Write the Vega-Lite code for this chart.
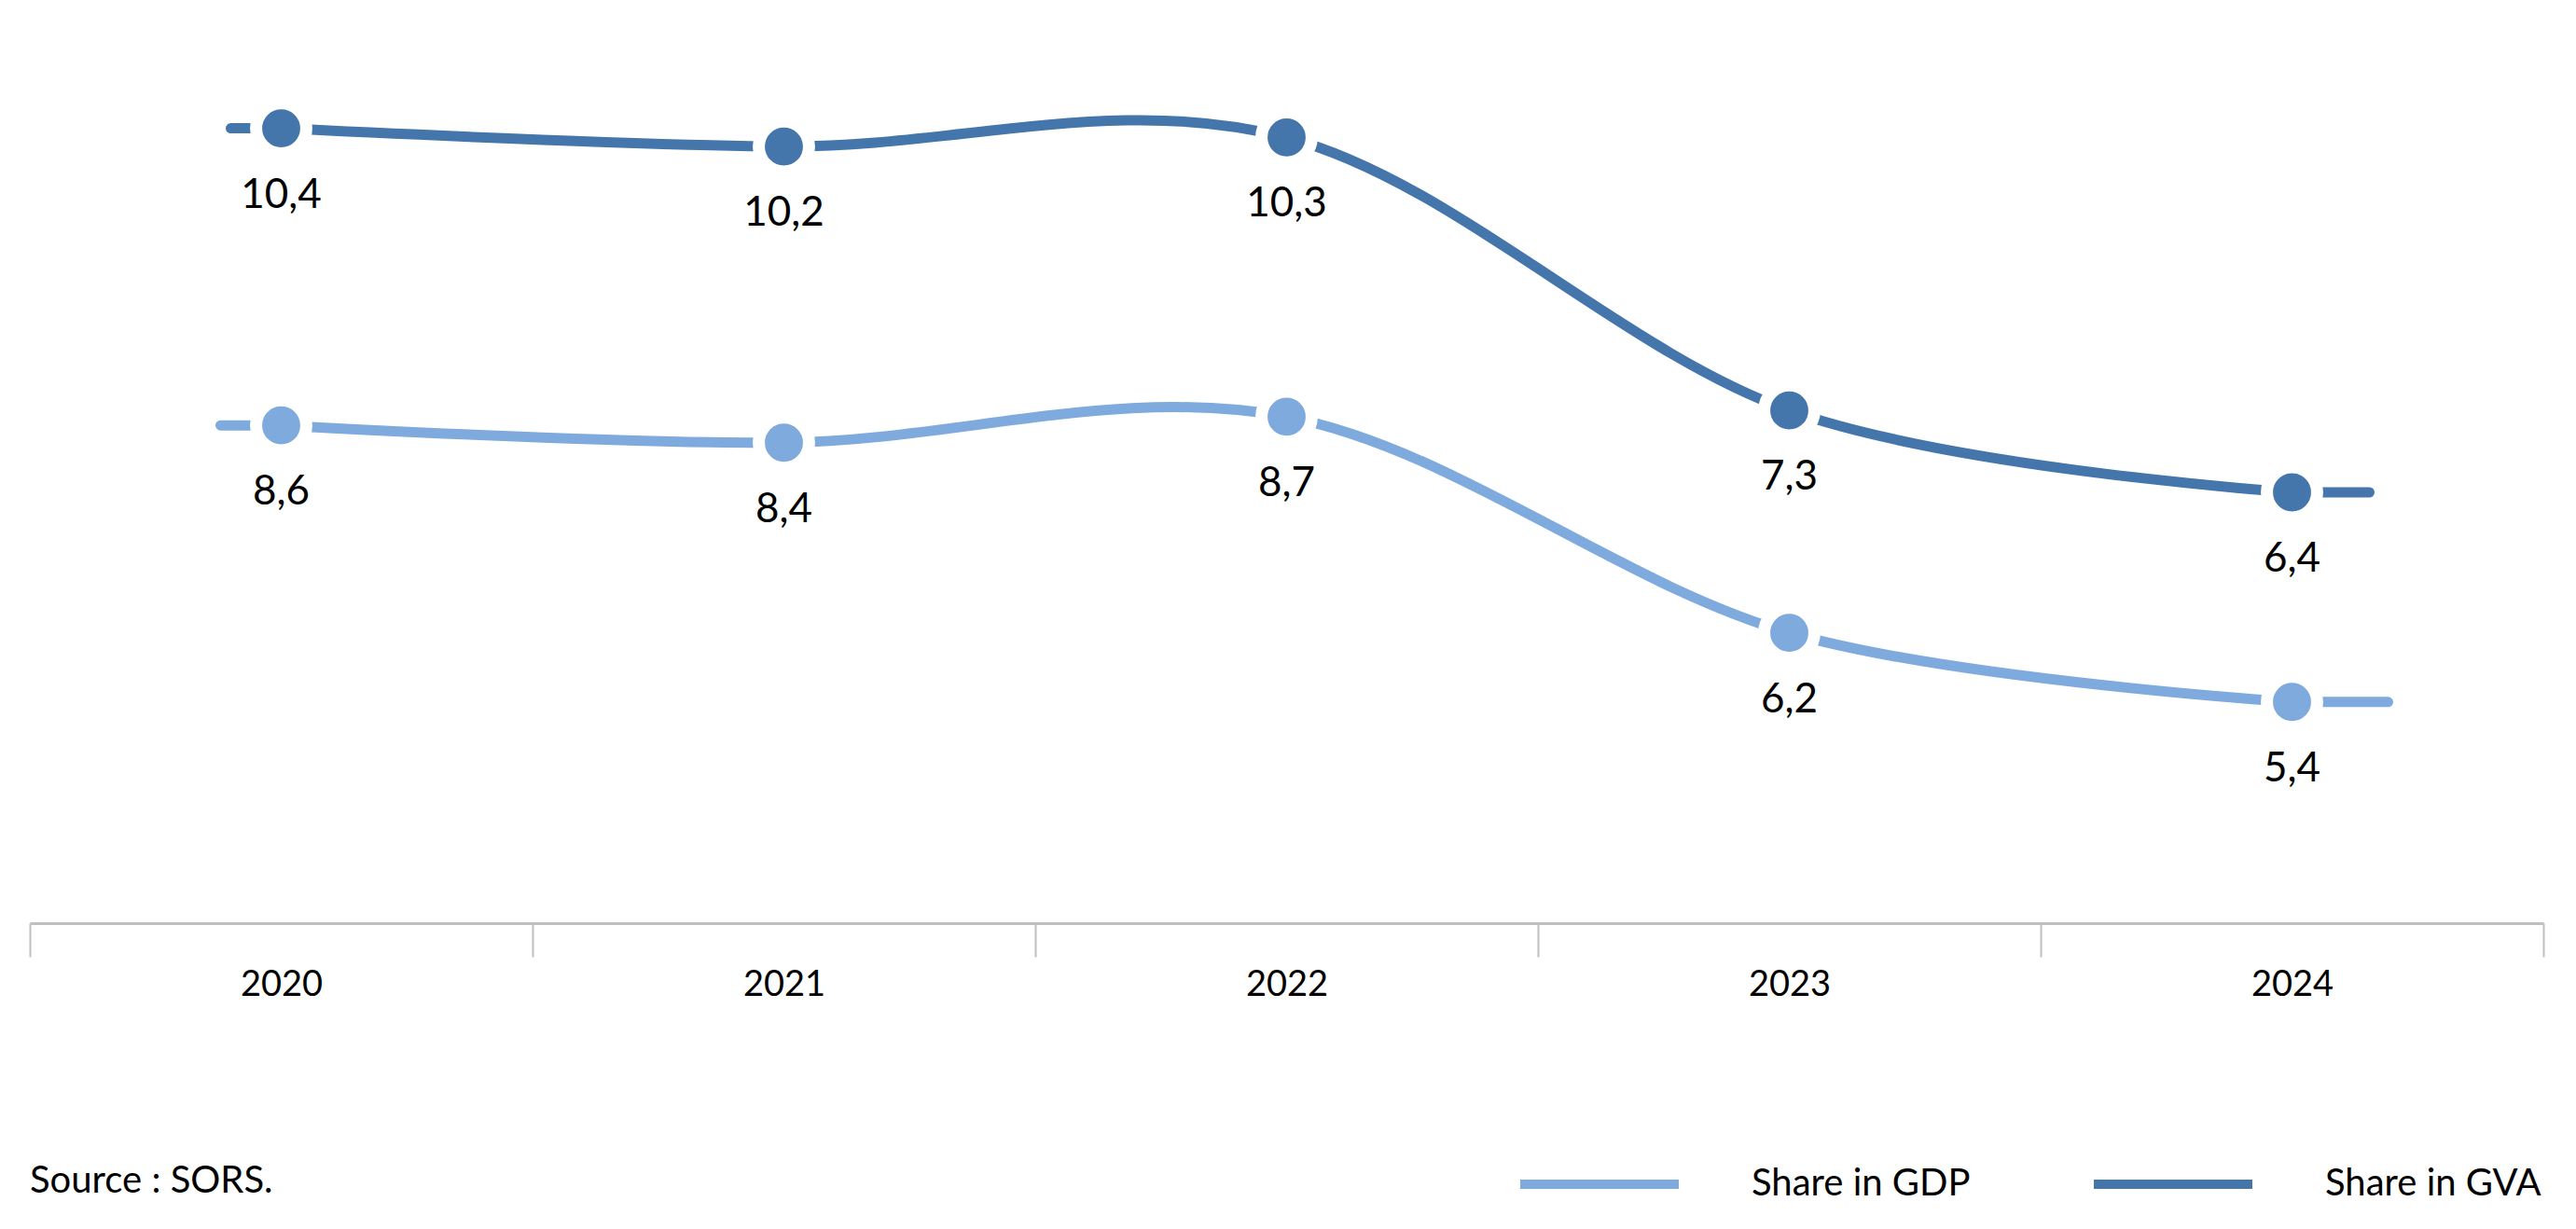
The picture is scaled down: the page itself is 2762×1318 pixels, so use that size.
{
  "$schema": "https://vega.github.io/schema/vega-lite/v6.json",
  "width": 2695,
  "height": 990,
  "autosize": {"type": "none"},
  "padding": {"left": 32, "top": 0, "right": 35, "bottom": 328},
  "background": "white",
  "config": {
    "view": {"stroke": null},
    "font": "Lato",
    "locale": {"number": {"decimal": ",", "thousands": ".", "grouping": [3], "currency": ["", " €"]}}
  },
  "title": {
    "text": "Source : SORS.",
    "orient": "bottom",
    "anchor": "start",
    "frame": "group",
    "offset": -43,
    "fontSize": 40,
    "fontWeight": "normal",
    "font": "Lato",
    "color": "black"
  },
  "data": {
    "values": [
      {"year": "2020", "series": "Share in GDP", "value": 8.6},
      {"year": "2021", "series": "Share in GDP", "value": 8.4},
      {"year": "2022", "series": "Share in GDP", "value": 8.7},
      {"year": "2023", "series": "Share in GDP", "value": 6.2},
      {"year": "2024", "series": "Share in GDP", "value": 5.4},
      {"year": "2020", "series": "Share in GVA", "value": 10.4},
      {"year": "2021", "series": "Share in GVA", "value": 10.2},
      {"year": "2022", "series": "Share in GVA", "value": 10.3},
      {"year": "2023", "series": "Share in GVA", "value": 7.3},
      {"year": "2024", "series": "Share in GVA", "value": 6.4}
    ]
  },
  "encoding": {
    "x": {
      "field": "year",
      "type": "ordinal",
      "scale": {"type": "band", "paddingInner": 0, "paddingOuter": 0},
      "axis": {
        "title": null,
        "labelAngle": 0,
        "tickBand": "extent",
        "domainColor": "#BFBFBF",
        "domainWidth": 3,
        "tickColor": "#BFBFBF",
        "tickWidth": 2,
        "tickSize": 36,
        "labelFontSize": 38,
        "labelFont": "Lato",
        "labelColor": "black",
        "labelPadding": 11
      }
    }
  },
  "layer": [
    {
      "transform": [{"filter": "datum.series === 'Share in GDP'"}],
      "encoding": {
        "y": {"field": "value", "type": "quantitative", "scale": {"domain": [2.841, 13.521], "nice": false, "zero": false}, "axis": null}
      },
      "layer": [
        {
          "mark": {"type": "line", "interpolate": "cardinal", "strokeWidth": 11, "strokeCap": "round"},
          "encoding": {
            "color": {
              "field": "series",
              "type": "nominal",
              "scale": {"domain": ["Share in GDP", "Share in GVA"], "range": ["#7EAADE", "#4476AB"]},
              "legend": {
                "title": null,
                "orient": "none",
                "direction": "horizontal",
                "legendX": 1593,
                "legendY": 1180,
                "symbolType": "stroke",
                "symbolSize": 28900,
                "symbolStrokeWidth": 10,
                "labelFontSize": 40,
                "labelFont": "Lato",
                "labelColor": "black",
                "labelOffset": 73,
                "columnPadding": 112,
                "labelLimit": 500
              }
            }
          }
        },
        {
          "transform": [{"filter": "datum.year === '2020'"}],
          "mark": {"type": "rule", "strokeWidth": 11, "strokeCap": "round", "x2Offset": -65},
          "encoding": {"x2": {"field": "year"}, "color": {"field": "series", "type": "nominal"}}
        },
        {
          "transform": [{"filter": "datum.year === '2024'"}],
          "mark": {"type": "rule", "strokeWidth": 11, "strokeCap": "round", "x2Offset": 103},
          "encoding": {"x2": {"field": "year"}, "color": {"field": "series", "type": "nominal"}}
        },
        {
          "mark": {"type": "circle", "size": 2900, "stroke": "white", "strokeWidth": 13, "opacity": 1},
          "encoding": {
            "fill": {"field": "series", "type": "nominal", "scale": {"domain": ["Share in GDP", "Share in GVA"], "range": ["#7EAADE", "#4476AB"]}, "legend": null}
          }
        },
        {
          "mark": {"type": "text", "dy": 72, "baseline": "middle", "fontSize": 44, "font": "Lato", "color": "black"},
          "encoding": {"text": {"field": "value", "type": "quantitative", "format": ".1f"}}
        }
      ]
    },
    {
      "transform": [{"filter": "datum.series === 'Share in GVA'"}],
      "encoding": {
        "y": {"field": "value", "type": "quantitative", "scale": {"domain": [1.666, 11.81], "nice": false, "zero": false}, "axis": null}
      },
      "layer": [
        {
          "mark": {"type": "line", "interpolate": "cardinal", "strokeWidth": 11, "strokeCap": "round"},
          "encoding": {"color": {"field": "series", "type": "nominal"}}
        },
        {
          "transform": [{"filter": "datum.year === '2020'"}],
          "mark": {"type": "rule", "strokeWidth": 11, "strokeCap": "round", "x2Offset": -54},
          "encoding": {"x2": {"field": "year"}, "color": {"field": "series", "type": "nominal"}}
        },
        {
          "transform": [{"filter": "datum.year === '2024'"}],
          "mark": {"type": "rule", "strokeWidth": 11, "strokeCap": "round", "x2Offset": 83},
          "encoding": {"x2": {"field": "year"}, "color": {"field": "series", "type": "nominal"}}
        },
        {
          "mark": {"type": "circle", "size": 2900, "stroke": "white", "strokeWidth": 13, "opacity": 1},
          "encoding": {"fill": {"field": "series", "type": "nominal", "legend": null}}
        },
        {
          "mark": {"type": "text", "dy": 72, "baseline": "middle", "fontSize": 44, "font": "Lato", "color": "black"},
          "encoding": {"text": {"field": "value", "type": "quantitative", "format": ".1f"}}
        }
      ]
    }
  ],
  "resolve": {"scale": {"y": "independent"}}
}
